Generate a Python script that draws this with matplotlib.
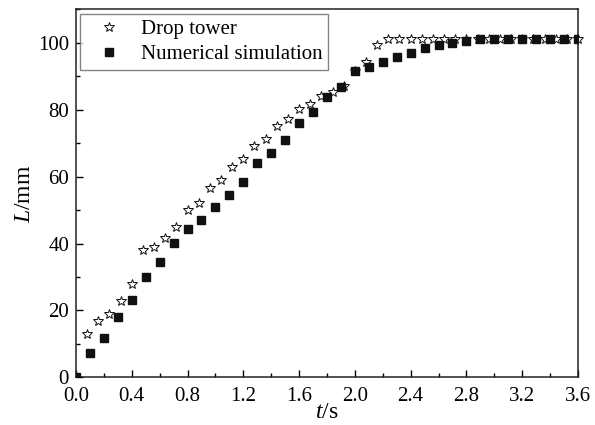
import numpy as np
import matplotlib
matplotlib.use("Agg")
import matplotlib.pyplot as plt
from matplotlib.ticker import MultipleLocator

plt.rcParams['font.family'] = ['Liberation Serif', 'DejaVu Serif']
plt.rcParams['mathtext.fontset'] = 'custom'
plt.rcParams['mathtext.rm'] = 'Liberation Serif'
plt.rcParams['mathtext.it'] = 'Liberation Serif:italic'

# drop tower measurements
t_drop = [0.08, 0.16, 0.24, 0.32, 0.40, 0.48, 0.56, 0.64, 0.72, 0.80,
          0.88, 0.96, 1.04, 1.12, 1.20, 1.28, 1.36, 1.44, 1.52, 1.60,
          1.68, 1.76, 1.84, 1.92, 2.00, 2.08, 2.16, 2.24, 2.32, 2.40,
          2.48, 2.56, 2.64, 2.72, 2.80, 2.88, 2.96, 3.04, 3.12, 3.20,
          3.28, 3.36, 3.44, 3.52, 3.60]
L_drop = [12.9, 16.9, 18.9, 22.8, 27.9, 38.0, 39.0, 41.5, 45.0, 50.0,
          52.1, 56.5, 59.0, 63.0, 65.2, 69.2, 71.1, 75.0, 77.2, 80.2,
          81.7, 84.2, 85.2, 87.2, 91.7, 94.2, 99.4, 101.0, 101.0, 101.0,
          101.0, 101.0, 101.0, 101.0, 101.0, 101.0, 101.0, 101.0, 101.0, 101.0,
          101.0, 101.0, 101.0, 101.0, 101.0]

# numerical simulation
t_sim = [0.0, 0.1, 0.2, 0.3, 0.4, 0.5, 0.6, 0.7, 0.8, 0.9,
         1.0, 1.1, 1.2, 1.3, 1.4, 1.5, 1.6, 1.7, 1.8, 1.9,
         2.0, 2.1, 2.2, 2.3, 2.4, 2.5, 2.6, 2.7, 2.8, 2.9,
         3.0, 3.1, 3.2, 3.3, 3.4, 3.5, 3.6]
L_sim = [0.0, 7.2, 11.9, 17.9, 23.2, 30.1, 34.4, 40.1, 44.2, 47.0,
         50.9, 54.5, 58.4, 64.0, 67.1, 71.0, 76.0, 79.4, 83.9, 86.9,
         91.7, 92.8, 94.4, 95.9, 97.1, 98.5, 99.2, 99.9, 100.5, 101.0,
         101.2, 101.2, 101.2, 101.2, 101.2, 101.2, 101.2]

fig = plt.figure(figsize=(5.95, 4.25), dpi=100)
ax = fig.add_axes([0.1277, 0.1122, 0.8437, 0.8658])

ax.plot(t_drop, L_drop, linestyle='none', marker='*', markersize=7.5,
        markerfacecolor='white', markeredgecolor='#111111', markeredgewidth=0.7,
        label='Drop tower', clip_on=False, zorder=3)
ax.plot(t_sim, L_sim, linestyle='none', marker='s', markersize=5.5,
        color='#111111', label='Numerical simulation', clip_on=True, zorder=3)

ax.set_xlim(0, 3.6)
ax.set_ylim(0, 110)
ax.xaxis.set_major_locator(MultipleLocator(0.4))
ax.xaxis.set_minor_locator(MultipleLocator(0.2))
ax.yaxis.set_major_locator(MultipleLocator(20))
ax.yaxis.set_minor_locator(MultipleLocator(10))
ax.xaxis.set_major_formatter(matplotlib.ticker.FormatStrFormatter('%.1f'))
ax.tick_params(which='both', direction='in', labelsize=15, top=False, right=False)
ax.tick_params(which='major', length=5, width=1)
ax.tick_params(axis='x', which='major', pad=7)
ax.tick_params(axis='y', which='major', pad=5)
ax.tick_params(which='minor', length=3, width=1)
for s in ax.spines.values():
    s.set_linewidth(1.1)
    s.set_color('#222222')

ax.set_xlabel(r'$\it{t}$/s', fontsize=17, labelpad=-3)
ax.set_ylabel(r'$\it{L}$/mm', fontsize=17, labelpad=2)

leg = ax.legend(loc='upper left', fontsize=15, frameon=True, fancybox=False,
                edgecolor='#666666', borderpad=0.3, handletextpad=0.4,
                labelspacing=0.25, borderaxespad=0.2, handlelength=2.2)
leg.get_frame().set_linewidth(1.0)

fig.savefig('out.png', dpi=100)
